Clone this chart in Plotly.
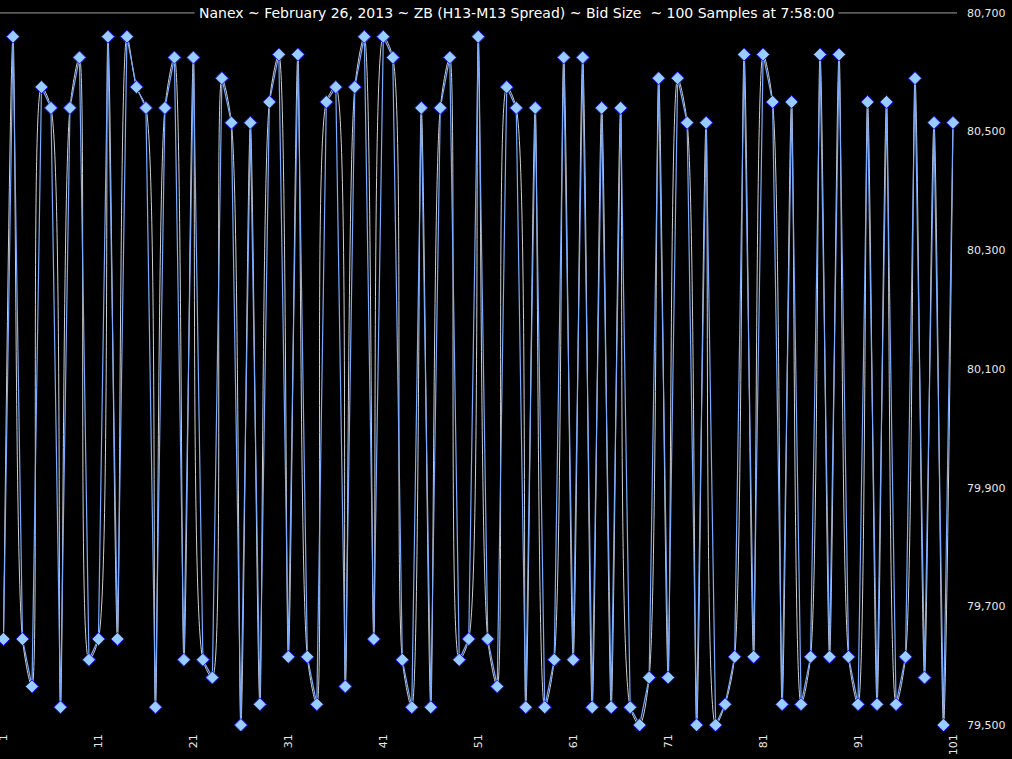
import plotly.graph_objects as go

sample = list(range(1, 102))
bid_size = [
    79645, 80660, 79645, 79565, 80575, 80540, 79530, 80540, 80625, 79610,
    79645, 80660, 79645, 80660, 80575, 80540, 79530, 80540, 80625, 79610,
    80625, 79610, 79580, 80590, 80515, 79500, 80515, 79535, 80550, 80630,
    79615, 80630, 79615, 79535, 80550, 80575, 79565, 80575, 80660, 79645,
    80660, 80625, 79610, 79530, 80540, 79530, 80540, 80625, 79610, 79645,
    80660, 79645, 79565, 80575, 80540, 79530, 80540, 79530, 79610, 80625,
    79610, 80625, 79530, 80540, 79530, 80540, 79530, 79500, 79580, 80590,
    79580, 80590, 80515, 79500, 80515, 79500, 79535, 79615, 80630, 79615,
    80630, 80550, 79535, 80550, 79535, 79615, 80630, 79615, 80630, 79615,
    79535, 80550, 79535, 80550, 79535, 79615, 80590, 79580, 80515, 79500,
    80515,
]
x_ticks = list(range(1, 102, 10))
y_ticks = list(range(79500, 80701, 200))
title_text = "Nanex ~ February 26, 2013 ~ ZB (H13-M13 Spread) ~ Bid Size  ~ 100 Samples at 7:58:00"

fig = go.Figure()
fig.add_trace(go.Scatter(
    x=sample, y=bid_size, mode="lines",
    line=dict(color="#d0d0d0", width=1, shape="spline", smoothing=0.8),
    hoverinfo="skip", showlegend=False,
))
fig.add_trace(go.Scatter(
    x=sample, y=bid_size, mode="lines+markers",
    line=dict(color="#78aaff", width=1.2),
    marker=dict(symbol="diamond", size=10, color="#99ccff",
                line=dict(color="#1a1aff", width=1)),
    showlegend=False,
))

fig.add_shape(type="line", xref="paper", yref="y", x0=0, x1=0.997,
              y0=80700, y1=80700, line=dict(color="#a0a0a0", width=1))
fig.add_annotation(text=title_text, xref="paper", yref="y",
                   x=0.5375, y=80700, xanchor="center", yanchor="middle",
                   showarrow=False, bgcolor="black", borderpad=4,
                   font=dict(family="DejaVu Sans", size=14, color="white"))

fig.update_layout(
    width=1012, height=759,
    paper_bgcolor="black", plot_bgcolor="black",
    margin=dict(l=0, r=52, t=7, b=28, autoexpand=False),
    xaxis=dict(range=[0.632, 101.737], tickvals=x_ticks, tickangle=-90,
               showgrid=False, zeroline=False, showline=False, ticks="",
               ticklabeloverflow="allow", automargin=False,
               tickfont=dict(family="DejaVu Sans", size=11, color="#e8e8e8")),
    yaxis=dict(range=[79490, 80710], tickvals=y_ticks, tickformat=",d",
               side="right", showgrid=False, zeroline=False, showline=False,
               ticks="", ticklabelstandoff=6, ticklabeloverflow="allow",
               automargin=False,
               tickfont=dict(family="DejaVu Sans", size=11, color="#e8e8e8")),
)

fig.write_html("out.html", config={"displayModeBar": False},
               post_script="document.body.style.margin='0';document.body.style.background='black';")
